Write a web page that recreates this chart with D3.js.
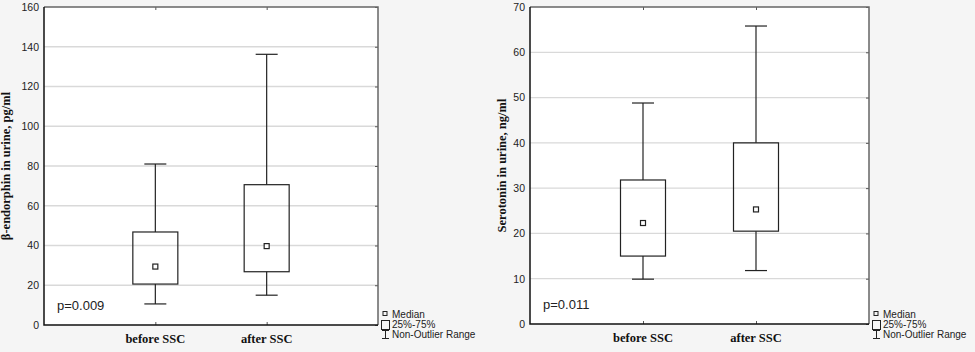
<!DOCTYPE html>
<html>
<head>
<meta charset="utf-8">
<script src="https://cdn.jsdelivr.net/npm/d3@7"></script>
<style>
  body { margin: 0; background: #f5f5f5; }
  svg { display: block; }
</style>
</head>
<body>
<div id="chart"></div>
<script>
// Groups on the x axis
const categories = ["before SSC", "after SSC"];

// [min, q1, median, q3, max]
const endorphinStats = [
  [10.6, 20.6, 29.4, 46.8, 81.0],
  [15.0, 26.8, 39.7, 70.6, 136.2]
];
const serotoninStats = [
  [9.9, 15.0, 22.3, 31.8, 48.8],
  [11.8, 20.5, 25.3, 40.0, 65.8]
];

const endorphinTicks = [0, 20, 40, 60, 80, 100, 120, 140, 160];
const serotoninTicks = [0, 10, 20, 30, 40, 50, 60, 70];

const pValues = ["p=0.009", "p=0.011"];
const legendLabels = ["Median", "25%-75%", "Non-Outlier Range"];

const width = 975;
const height = 352;

const svg = d3.select("#chart").append("svg")
  .attr("width", width)
  .attr("height", height)
  .attr("viewBox", [0, 0, width, height]);

function drawPanel(opt) {
  const { x0, x1, y0, y1, stats, ticks, label, pText, legendX, titleX } = opt;

  const x = d3.scalePoint()
    .domain(categories)
    .range([x0, x1])
    .padding(1);

  const y = d3.scaleLinear()
    .domain([ticks[0], ticks[ticks.length - 1]])
    .range([y1, y0]);

  const g = svg.append("g");

  // white plot area
  g.append("rect")
    .attr("x", x0).attr("y", y0)
    .attr("width", x1 - x0).attr("height", y1 - y0)
    .attr("fill", "#fff");

  // grid lines
  g.append("g")
    .selectAll("line")
    .data(ticks.slice(1, -1))
    .join("line")
    .attr("x1", x0).attr("x2", x1)
    .attr("y1", d => y(d)).attr("y2", d => y(d))
    .attr("stroke", "#d9d9d9")
    .attr("stroke-width", 1.3);

  // y axis labels
  g.append("g")
    .attr("transform", `translate(${x0},0)`)
    .call(d3.axisLeft(y).tickValues(ticks).tickSize(0).tickPadding(5))
    .call(a => a.select(".domain").remove())
    .call(a => a.selectAll("text")
      .attr("font-family", "Liberation Sans, Arial, sans-serif")
      .attr("font-size", 10.5)
      .attr("fill", "#222"));

  // small inner ticks on the right side
  g.append("g")
    .attr("transform", `translate(${x1},0)`)
    .call(d3.axisLeft(y).tickValues(ticks).tickSize(3).tickFormat(""))
    .call(a => a.select(".domain").remove())
    .call(a => a.selectAll("line").attr("stroke", "#555"));

  // small inner ticks top / bottom at category positions
  g.append("g")
    .attr("transform", `translate(0,${y0})`)
    .call(d3.axisBottom(x).tickSize(3).tickFormat(""))
    .call(a => a.select(".domain").remove())
    .call(a => a.selectAll("line").attr("stroke", "#555"));
  g.append("g")
    .attr("transform", `translate(0,${y1})`)
    .call(d3.axisTop(x).tickSize(3).tickFormat(""))
    .call(a => a.select(".domain").remove())
    .call(a => a.selectAll("line").attr("stroke", "#555"));

  // category labels
  g.append("g")
    .selectAll("text")
    .data(categories)
    .join("text")
    .attr("x", d => x(d))
    .attr("y", y1 + 18)
    .attr("text-anchor", "middle")
    .attr("font-family", "Liberation Serif, Times New Roman, serif")
    .attr("font-weight", "bold")
    .attr("font-size", 12.5)
    .attr("fill", "#111")
    .text(d => d);

  // frame: top/right gray, left/bottom black
  g.append("path")
    .attr("d", `M${x0},${y0}H${x1}V${y1}`)
    .attr("fill", "none")
    .attr("stroke", "#666")
    .attr("stroke-width", 1.5);
  g.append("path")
    .attr("d", `M${x0},${y0}V${y1}H${x1}`)
    .attr("fill", "none")
    .attr("stroke", "#111")
    .attr("stroke-width", 1.5);

  // box plots
  const boxW = 45, capW = 22, medW = 5;
  const box = g.append("g")
    .selectAll("g")
    .data(stats.map((s, i) => ({ cat: categories[i], s })))
    .join("g")
    .attr("stroke", "#222")
    .attr("stroke-width", 1.2)
    .attr("fill", "none");

  box.append("line")
    .attr("x1", d => x(d.cat)).attr("x2", d => x(d.cat))
    .attr("y1", d => y(d.s[4])).attr("y2", d => y(d.s[3]));
  box.append("line")
    .attr("x1", d => x(d.cat)).attr("x2", d => x(d.cat))
    .attr("y1", d => y(d.s[1])).attr("y2", d => y(d.s[0]));
  box.append("line")
    .attr("x1", d => x(d.cat) - capW / 2).attr("x2", d => x(d.cat) + capW / 2)
    .attr("y1", d => y(d.s[4])).attr("y2", d => y(d.s[4]));
  box.append("line")
    .attr("x1", d => x(d.cat) - capW / 2).attr("x2", d => x(d.cat) + capW / 2)
    .attr("y1", d => y(d.s[0])).attr("y2", d => y(d.s[0]));
  box.append("rect")
    .attr("x", d => x(d.cat) - boxW / 2)
    .attr("y", d => y(d.s[3]))
    .attr("width", boxW)
    .attr("height", d => y(d.s[1]) - y(d.s[3]));
  box.append("rect")
    .attr("x", d => x(d.cat) - medW / 2)
    .attr("y", d => y(d.s[2]) - medW / 2)
    .attr("width", medW).attr("height", medW)
    .attr("fill", "#fff");

  // p-value
  g.append("text")
    .attr("x", x0 + 13)
    .attr("y", y(0) - 15)
    .attr("font-family", "Liberation Sans, Arial, sans-serif")
    .attr("font-size", 13)
    .attr("fill", "#222")
    .text(pText);

  // y axis title
  g.append("text")
    .attr("transform", `translate(${titleX},${(y0 + y1) / 2}) rotate(-90)`)
    .attr("text-anchor", "middle")
    .attr("font-family", "Liberation Serif, Times New Roman, serif")
    .attr("font-weight", "bold")
    .attr("font-size", 12.5)
    .attr("fill", "#111")
    .text(label);

  // legend
  const lg = g.append("g")
    .attr("transform", `translate(${legendX},0)`)
    .attr("stroke", "#222")
    .attr("fill", "none")
    .attr("stroke-width", 1);
  lg.append("rect").attr("x", 2).attr("y", 311.5).attr("width", 4).attr("height", 4);
  lg.append("rect").attr("x", 0.5).attr("y", 320.5).attr("width", 8).attr("height", 9);
  lg.append("path").attr("d", "M1,330.5H8M4.5,330.5V338.5M1,338.5H8");
  lg.append("g")
    .attr("stroke", "none")
    .selectAll("text")
    .data(legendLabels)
    .join("text")
    .attr("x", 11)
    .attr("y", (d, i) => 317.5 + i * 10)
    .attr("font-family", "Liberation Sans, Arial, sans-serif")
    .attr("font-size", 10)
    .attr("fill", "#222")
    .text(d => d);
}

drawPanel({
  x0: 44, x1: 378, y0: 7, y1: 325,
  stats: endorphinStats, ticks: endorphinTicks,
  label: "β-endorphin in urine, pg/ml",
  pText: pValues[0], legendX: 381, titleX: 10
});

drawPanel({
  x0: 530, x1: 869, y0: 7, y1: 324,
  stats: serotoninStats, ticks: serotoninTicks,
  label: "Serotonin in urine, ng/ml",
  pText: pValues[1], legendX: 872, titleX: 506
});
</script>
</body>
</html>
